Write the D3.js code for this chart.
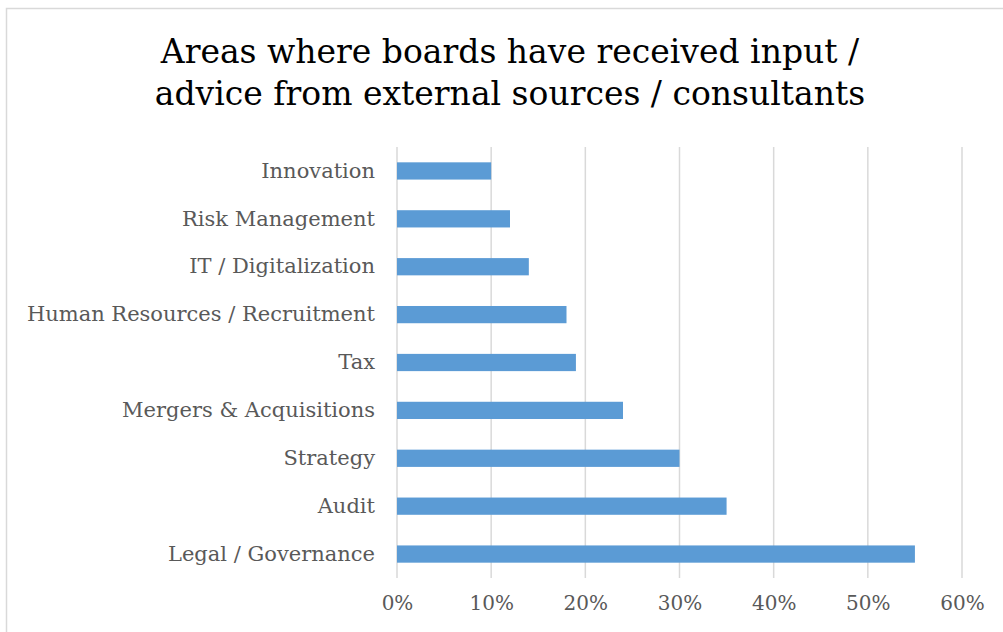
<!DOCTYPE html>
<html>
<head>
<meta charset="utf-8">
<script src="https://cdn.jsdelivr.net/npm/d3@7"></script>
<style>
  html, body { margin: 0; padding: 0; background: #fff; }
  svg { display: block; }
</style>
</head>
<body>
<svg id="chart" width="1003" height="632"></svg>
<script>
// Areas where boards received outside advice, share of respondents
const categories = [
  "Innovation",
  "Risk Management",
  "IT / Digitalization",
  "Human Resources / Recruitment",
  "Tax",
  "Mergers & Acquisitions",
  "Strategy",
  "Audit",
  "Legal / Governance"
];
const shares = [0.10, 0.12, 0.14, 0.18, 0.19, 0.24, 0.30, 0.35, 0.55];
const tickValues = [0, 0.1, 0.2, 0.3, 0.4, 0.5, 0.6];
const titleLines = [
  "Areas where boards have received input /",
  "advice from external sources / consultants"
];

const svg = d3.select("#chart");
const serif = "'DejaVu Serif', 'Liberation Serif', serif";

// outer chart frame
svg.append("rect")
  .attr("x", 6.5).attr("y", 8.5)
  .attr("width", 1010).attr("height", 640)
  .attr("fill", "#fff")
  .attr("stroke", "#d9d9d9")
  .attr("stroke-width", 1.5);

const plot = { left: 397, right: 962, top: 147, bottom: 578 };

const x = d3.scaleLinear().domain([0, 0.6]).range([plot.left, plot.right]);
const y = d3.scaleBand()
  .domain(categories)
  .range([plot.top, plot.bottom])
  .paddingInner(0.64)
  .paddingOuter(0.32);

// vertical gridlines
svg.append("g")
  .selectAll("line")
  .data(tickValues)
  .join("line")
  .attr("x1", d => x(d)).attr("x2", d => x(d))
  .attr("y1", plot.top).attr("y2", plot.bottom)
  .attr("stroke", "#d9d9d9")
  .attr("stroke-width", 1.5);

// bars
svg.append("g")
  .selectAll("rect")
  .data(shares)
  .join("rect")
  .attr("x", x(0))
  .attr("y", (d, i) => y(categories[i]))
  .attr("width", d => x(d) - x(0))
  .attr("height", y.bandwidth())
  .attr("fill", "#5b9bd5");

// category labels
const yAxis = d3.axisLeft(y).tickSize(0).tickPadding(22);
svg.append("g")
  .attr("transform", `translate(${plot.left},0)`)
  .call(yAxis)
  .call(g => g.select(".domain").remove())
  .call(g => g.selectAll("text")
    .attr("font-family", serif)
    .attr("font-size", 21)
    .attr("fill", "#595959"));

// percentage axis
const xAxis = d3.axisBottom(x)
  .tickValues(tickValues)
  .tickFormat(d3.format(".0%"))
  .tickSize(0)
  .tickPadding(18);
svg.append("g")
  .attr("transform", `translate(0,${plot.bottom})`)
  .call(xAxis)
  .call(g => g.select(".domain").remove())
  .call(g => g.selectAll("text")
    .attr("font-family", serif)
    .attr("font-size", 20)
    .attr("fill", "#595959"));

// title
svg.append("text")
  .attr("x", 510)
  .attr("y", 63)
  .attr("text-anchor", "middle")
  .attr("font-family", serif)
  .attr("font-size", 33)
  .attr("fill", "#000")
  .selectAll("tspan")
  .data(titleLines)
  .join("tspan")
  .attr("x", 510)
  .attr("dy", (d, i) => i === 0 ? 0 : 42)
  .text(d => d);
</script>
</body>
</html>
